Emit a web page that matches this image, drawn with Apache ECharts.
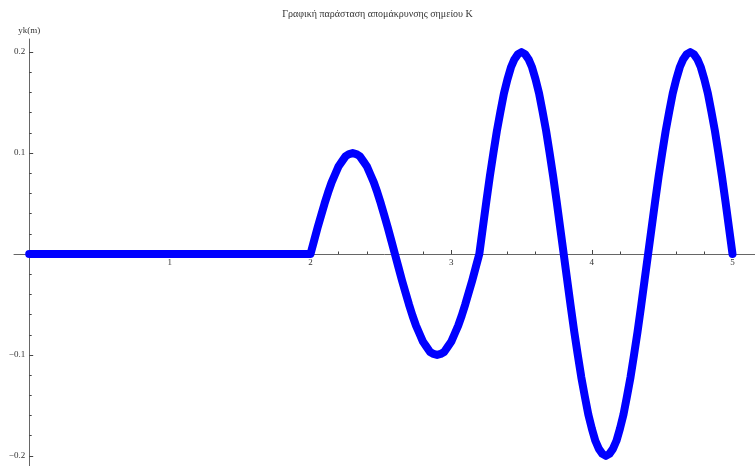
<!DOCTYPE html>
<html>
<head>
<meta charset="utf-8">
<script src="https://cdn.jsdelivr.net/npm/echarts@6/dist/echarts.min.js"></script>
<style>html,body{margin:0;padding:0;background:#fff}#c{width:755px;height:466px}</style>
</head>
<body>
<div id="c"></div>
<script>
const titleText = 'Γραφική παράσταση απομάκρυνσης σημείου Κ';
const yName = 'yk(m)';
const xValues = [0, 0.5, 1, 1.5, 2.0,
  2.025,2.05,2.075,2.1,2.125,2.15,2.175,2.2,2.225,2.25,2.275,2.3,
  2.325,2.35,2.375,2.4,2.425,2.45,2.475,2.5,2.525,2.55,2.575,2.6,
  2.625,2.65,2.675,2.7,2.725,2.75,2.775,2.8,2.825,2.85,2.875,2.9,
  2.925,2.95,2.975,3.0,3.025,3.05,3.075,3.1,3.125,3.15,3.175,3.2,
  3.225,3.25,3.275,3.3,3.325,3.35,3.375,3.4,3.425,3.45,3.475,3.5,
  3.525,3.55,3.575,3.6,3.625,3.65,3.675,3.7,3.725,3.75,3.775,3.8,
  3.825,3.85,3.875,3.9,3.925,3.95,3.975,4.0,4.025,4.05,4.075,4.1,
  4.125,4.15,4.175,4.2,4.225,4.25,4.275,4.3,4.325,4.35,4.375,4.4,
  4.425,4.45,4.475,4.5,4.525,4.55,4.575,4.6,4.625,4.65,4.675,4.7,
  4.725,4.75,4.775,4.8,4.825,4.85,4.875,4.9,4.925,4.95,4.975,5.0];
const yValues = [0, 0, 0, 0, 0,
  0.013,0.026,0.038,0.05,0.061,0.071,0.079,0.087,0.092,0.097,0.099,0.1,
  0.099,0.097,0.092,0.087,0.079,0.071,0.061,0.05,0.038,0.026,0.013,0,
  -0.013,-0.026,-0.038,-0.05,-0.061,-0.071,-0.079,-0.087,-0.092,-0.097,-0.099,-0.1,
  -0.099,-0.097,-0.092,-0.087,-0.079,-0.071,-0.061,-0.05,-0.038,-0.026,-0.013,0,
  0.026,0.052,0.077,0.1,0.122,0.141,0.159,0.173,0.185,0.193,0.198,0.2,
  0.198,0.193,0.185,0.173,0.159,0.141,0.122,0.1,0.077,0.052,0.026,0,
  -0.026,-0.052,-0.077,-0.1,-0.122,-0.141,-0.159,-0.173,-0.185,-0.193,-0.198,-0.2,
  -0.198,-0.193,-0.185,-0.173,-0.159,-0.141,-0.122,-0.1,-0.077,-0.052,-0.026,0,
  0.026,0.052,0.077,0.1,0.122,0.141,0.159,0.173,0.185,0.193,0.198,0.2,
  0.198,0.193,0.185,0.173,0.159,0.141,0.122,0.1,0.077,0.052,0.026,0];
const xMajorTicks = [1, 2, 3, 4, 5];
const xMinorTicks = [0.2,0.4,0.6,0.8,1.2,1.4,1.6,1.8,2.2,2.4,2.6,2.8,3.2,3.4,3.6,3.8,4.2,4.4,4.6,4.8];
const yMajorTicks = [-0.2, -0.1, 0.1, 0.2];
const yMinorTicks = [-0.18,-0.16,-0.14,-0.12,-0.08,-0.06,-0.04,-0.02,0.02,0.04,0.06,0.08,0.12,0.14,0.16,0.18];

const X_MIN = -0.108, X_MAX = 5.16, Y_MIN = -0.21, Y_MAX = 0.213;
const G = {left: 14, right: 0, top: 39, bottom: 0};
const W = 755, H = 466;
const gw = W - G.left - G.right, gh = H - G.top - G.bottom;
// place axes through the origin (computed from the scale ranges)
const yAxisOffset = -((0 - X_MIN) / (X_MAX - X_MIN)) * gw;
const xAxisOffset = -((0 - Y_MIN) / (Y_MAX - Y_MIN)) * gh;

const axisColor = '#666';
const labelStyle = {fontSize: 9, color: '#333', fontFamily: 'Liberation Serif'};
const fmtY = v => (v < 0 ? '\u2212' + Math.abs(v) : String(v));

const chart = echarts.init(document.getElementById('c'), null, {renderer: 'canvas'});
chart.setOption({
  animation: false,
  title: {text: titleText, left: 'center', top: 4,
    textStyle: {fontSize: 10, fontWeight: 'normal', color: '#333', fontFamily: 'Liberation Serif'}},
  grid: {left: G.left, right: G.right, top: G.top, bottom: G.bottom, containLabel: false, outerBoundsMode: 'none'},
  xAxis: [
    {type: 'value', min: X_MIN, max: X_MAX, position: 'bottom', offset: xAxisOffset,
      axisLine: {onZero: false, lineStyle: {color: axisColor, width: 1}},
      axisTick: {inside: true, length: 4, customValues: xMajorTicks, lineStyle: {color: '#444'}},
      axisLabel: {customValues: xMajorTicks, margin: 4, ...labelStyle},
      splitLine: {show: false}},
    {type: 'value', min: X_MIN, max: X_MAX, position: 'bottom', offset: xAxisOffset,
      axisLine: {show: false, onZero: false},
      axisTick: {inside: true, length: 2.5, customValues: xMinorTicks, lineStyle: {color: '#444'}},
      axisLabel: {show: false},
      splitLine: {show: false}}
  ],
  yAxis: [
    {type: 'value', min: Y_MIN, max: Y_MAX, position: 'left', offset: yAxisOffset,
      name: yName, nameLocation: 'end', nameGap: 4,
      nameTextStyle: {fontSize: 9, color: '#333', fontFamily: 'Liberation Serif'},
      axisLine: {onZero: false, lineStyle: {color: axisColor, width: 1}},
      axisTick: {inside: true, length: 4, customValues: yMajorTicks, lineStyle: {color: '#444'}},
      axisLabel: {customValues: yMajorTicks, margin: 4, formatter: fmtY, ...labelStyle},
      splitLine: {show: false}},
    {type: 'value', min: Y_MIN, max: Y_MAX, position: 'left', offset: yAxisOffset,
      axisLine: {show: false, onZero: false},
      axisTick: {inside: true, length: 2.5, customValues: yMinorTicks, lineStyle: {color: '#444'}},
      axisLabel: {show: false},
      splitLine: {show: false}}
  ],
  series: [{
    type: 'line', xAxisIndex: 0, yAxisIndex: 0,
    data: xValues.map((x, i) => [x, yValues[i]]),
    showSymbol: false, smooth: false,
    lineStyle: {color: '#0000ff', width: 8, cap: 'round', join: 'round'}
  }]
});
</script>
</body>
</html>
